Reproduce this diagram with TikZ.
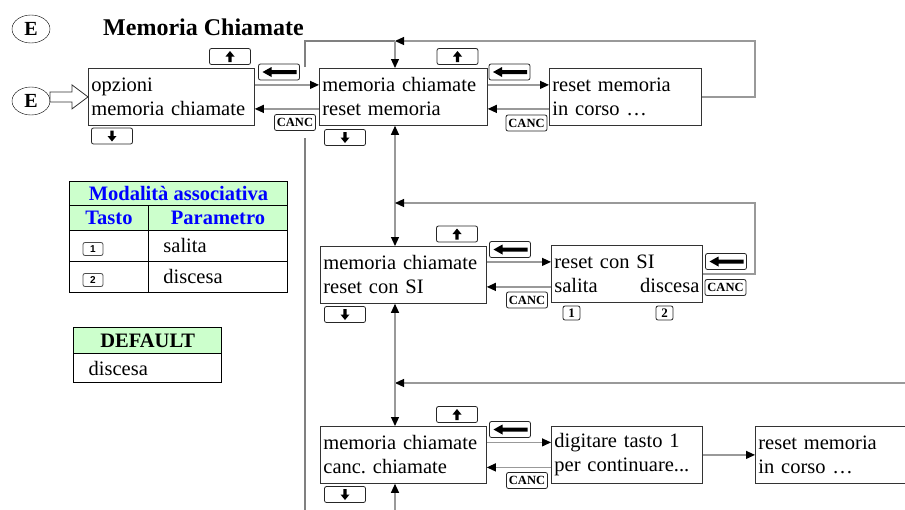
\documentclass[tikz,border=0pt]{standalone}
\usepackage{fontspec}
\setmainfont{Liberation Serif}
\newfontfamily\tastofont{Liberation Sans}
\usepackage{tikz}
\usetikzlibrary{
	arrows.meta,
	positioning,
	shapes.geometric
}
\definecolor{verdino}{HTML}{CCFFCC}
\definecolor{blu}{HTML}{0000FF}
\newcommand{\testo}{\fontsize{20.5}{24}\selectfont}
\frenchspacing

\begin{document}
\begin{tikzpicture}[
			x=1pt, y=-1pt,
			font=\testo,
			schermo/.style={
					draw=black!80,
					line width=0.8pt,
					anchor=north west,
					minimum height=57pt,
					text width=#1,
					align=left,
					inner xsep=3pt,
					inner ysep=0pt
				},
			tasto/.style={
					draw=black!85,
					fill=white,
					line width=0.8pt,
					rounded corners=2pt,
					minimum width=41pt,
					minimum height=16pt,
					inner sep=0pt
				},
			su/.style={tasto, path picture={
							\fill[black, sharp corners, shift={(path picture bounding box.center)}]
							(0pt,5.5pt) -- (4.5pt,0pt) -- (1.7pt,0pt) -- (1.7pt,-5.5pt)
							-- (-1.7pt,-5.5pt) -- (-1.7pt,0pt) -- (-4.5pt,0pt) -- cycle;}},
			giu/.style={tasto, path picture={
							\fill[black, sharp corners, shift={(path picture bounding box.center)}]
							(0pt,-5.5pt) -- (4.5pt,0pt) -- (1.7pt,0pt) -- (1.7pt,5.5pt)
							-- (-1.7pt,5.5pt) -- (-1.7pt,0pt) -- (-4.5pt,0pt) -- cycle;}},
			indietro/.style={tasto, path picture={
							\fill[black, sharp corners, shift={(path picture bounding box.center)}]
							(-16.5pt,0pt) -- (-7.5pt,5pt) -- (-7.5pt,2pt) -- (17.5pt,2pt)
							-- (17.5pt,-2pt) -- (-7.5pt,-2pt) -- (-7.5pt,-5pt) -- cycle;}},
			canc/.style={tasto, font=\fontsize{12.5}{14}\selectfont\bfseries},
			num/.style={tasto, minimum width=17pt, minimum height=14pt, font=\fontsize{13}{14}\selectfont\bfseries},
			numt/.style={tasto, draw=black!70, minimum width=20pt, minimum height=13pt, font=\tastofont\fontsize{10}{11}\selectfont\bfseries},
			linea/.style={draw=black!40, line width=1.2pt},
			freccia/.style={linea, -{Triangle[length=9pt, width=8pt, color=black]}},
			doppia/.style={linea, {Triangle[length=9pt, width=8pt, color=black]}-{Triangle[length=9pt, width=8pt, color=black]}},
			cella/.style={draw, line width=0.9pt, anchor=north west, inner sep=0pt},
			cerchio/.style={draw, ellipse, minimum width=38pt, minimum height=28pt, inner sep=0pt, font=\fontsize{20}{21}\selectfont\bfseries}
		]
		\useasboundingbox (0,0) rectangle (905,509);

		\node[cerchio] (e1) at (31,29) {E};
		\node[anchor=west, inner sep=0pt, font=\fontsize{24}{28}\selectfont\bfseries] (titolo) at (103,27) {Memoria Chiamate};
		\node[cerchio] (e2) at (31,101) {E};

		\node[schermo=160pt] (b1) at (88,68) {opzioni\\memoria chiamate};
		\node[schermo=162pt] (b2) at (319,68) {memoria chiamate\\reset memoria};
		\node[schermo=146pt] (b3) at (549,68) {reset memoria\\in corso …};
		\node[schermo=160pt] (b4) at (320,246) {memoria chiamate\\reset con SI};
		\node[schermo=145pt] (b5) at (551,245) {reset con SI\\salita\hfill discesa};
		\node[schermo=160pt] (b6) at (320,426) {memoria chiamate\\canc. chiamate};
		\node[schermo=145pt] (b7) at (551,426) {digitare tasto 1\\per continuare...};
		\node[schermo=164pt] (b8) at (755,426) {reset memoria\\in corso …};

		\coordinate (s1) at (305,67);
		\coordinate (s2) at (305,138);
		\coordinate (f2) at (305,512);
		\coordinate (j1) at (395,41);
		\coordinate (r1) at (755,41);
		\coordinate (j2) at (395,203);
		\coordinate (r2) at (755,203);
		\coordinate (j3) at (395,383);
		\coordinate (r3) at (910,383);
		\coordinate (f1) at (395,512);

		\draw[black!50, line width=1.2pt] (s1) |- (j1);
		\draw[black!50, line width=1.2pt] (s2) -- (f2);
		\draw[freccia] (b3.east) -| (r1) -- (j1);
		\draw[freccia] (j1) -- (j1 |- b2.north);
		\draw[doppia] (j1 |- b2.south) -- (j1 |- b4.north);
		\draw[freccia] (b5.east) -| (r2) -- (j2);
		\draw[freccia] (r3) -- (j3);
		\draw[doppia] (j1 |- b4.south) -- (j1 |- b6.north);
		\draw[freccia] (f1) -- (f1 |- b6.south);

		\draw[freccia] ([yshift=12pt]b1.east) -- ([yshift=12pt]b1.east -| b2.west);
		\draw[freccia] ([yshift=-12pt]b2.west) -- ([yshift=-12pt]b2.west -| b1.east);
		\draw[freccia] ([yshift=12pt]b2.east) -- ([yshift=12pt]b2.east -| b3.west);
		\draw[freccia] ([yshift=-12pt]b3.west) -- ([yshift=-12pt]b3.west -| b2.east);
		\draw[freccia] ([yshift=13pt]b4.east) -- ([yshift=13pt]b4.east -| b5.west);
		\draw[freccia] ([yshift=-13pt]b5.west) -- ([yshift=-13pt]b5.west -| b4.east);
		\draw[freccia] ([yshift=12.5pt]b6.east) -- ([yshift=12.5pt]b6.east -| b7.west);
		\draw[freccia] ([yshift=-12.5pt]b7.west) -- ([yshift=-12.5pt]b7.west -| b6.east);
		\draw[freccia] (b7.east) -- (b7.east -| b8.west);

		\draw[draw=black!80, fill=white, line width=0.8pt] (b1.west) -- ++(-16,-12) -- ++(0,7) -- ++(-22,0)
		-- ++(0,10) -- ++(22,0) -- ++(0,7) -- cycle;

		\node[su] (su1) at (230,56.5) {};
		\node[giu] (giu1) at (112,136) {};
		\node[indietro] (ind1) at (279,72) {};
		\node[canc] (canc1) at (295,122.5) {CANC};
		\node[su] (su2) at (457.5,56.5) {};
		\node[giu] (giu2) at (345,137.5) {};
		\node[indietro] (ind2) at (509.5,72) {};
		\node[canc] (canc2) at (526.5,123) {CANC};
		\node[su] (su4) at (457,234) {};
		\node[giu] (giu4) at (345,314.5) {};
		\node[indietro] (ind4) at (510,249.5) {};
		\node[canc] (canc4) at (527,300) {CANC};
		\node[indietro] (ind5) at (726,261.5) {};
		\node[canc] (canc5) at (725.5,287.5) {CANC};
		\node[num] (k1) at (571.5,313) {1};
		\node[num] (k2) at (664.5,313) {2};
		\node[su] (su6) at (457,414.5) {};
		\node[giu] (giu6) at (345,494.5) {};
		\node[indietro] (ind6) at (510,429.5) {};
		\node[canc] (canc6) at (527,480.5) {CANC};

		\node[cella, fill=verdino, minimum width=218pt, minimum height=24pt, text=blu, font=\testo\bfseries] (tm) at (69,181) {Modalità associativa};
		\node[cella, fill=verdino, minimum width=79pt, minimum height=25pt, text=blu, font=\testo\bfseries] (tt) at (69,205) {Tasto};
		\node[cella, fill=verdino, minimum width=139pt, minimum height=25pt, text=blu, font=\testo\bfseries] (tp) at (148,205) {Parametro};
		\node[cella, minimum width=79pt, minimum height=31pt] (ra1) at (69,230) {};
		\node[cella, minimum height=31pt, text width=109pt, inner xsep=15pt, align=left] (rb1) at (148,230) {salita};
		\node[cella, minimum width=79pt, minimum height=31pt] (ra2) at (69,261) {};
		\node[cella, minimum height=31pt, text width=109pt, inner xsep=15pt, align=left] (rb2) at (148,261) {discesa};
		\node[numt] (n1) at (93,249) {1};
		\node[numt] (n2) at (93,280) {2};

		\node[cella, line width=1.4pt, fill=verdino, minimum width=148pt, minimum height=26pt, font=\testo\bfseries] (dh) at (73,327) {DEFAULT};
		\node[cella, line width=1.4pt, minimum height=29pt, text width=118pt, inner xsep=15pt, align=left] (dv) at (73,353) {discesa};
	\end{tikzpicture}
\end{document}
